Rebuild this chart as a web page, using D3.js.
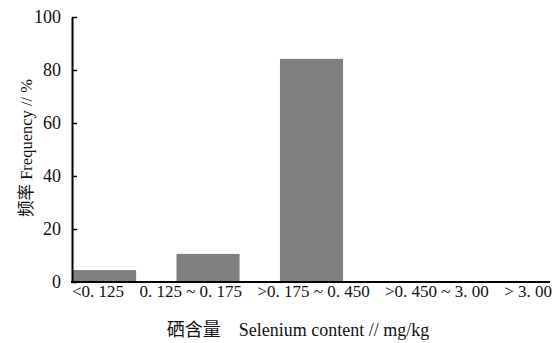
<!DOCTYPE html>
<html>
<head>
<meta charset="utf-8">
<script src="https://cdn.jsdelivr.net/npm/d3@7/dist/d3.min.js"></script>
<style>
  body { margin: 0; background: #fff; }
  text { font-family: "Liberation Serif", "Noto Sans CJK SC", serif; fill: #111; }
</style>
</head>
<body>
<svg id="chart" width="557" height="343"></svg>
<script>
// Selenium content classes and their frequency (%).
const categories = ['<0. 125', '0. 125 ~ 0. 175', '>0. 175 ~ 0. 450', '>0. 450 ~ 3. 00', '> 3. 00'];
const frequency = [4.5, 10.6, 84.2, 0, 0];
const yTicks = [0, 20, 40, 60, 80, 100];

const svg = d3.select('#chart');
const margin = {left: 72, right: 550, top: 17, bottom: 282};

// Bars hug the y axis, no outer padding.
const x = d3.scaleBand().domain(categories)
    .range([margin.left + 1, margin.right]).paddingInner(0.39).paddingOuter(0);
const y = d3.scaleLinear().domain([0, 100]).range([margin.bottom, margin.top]);

svg.selectAll('rect.bar')
    .data(categories)
    .join('rect')
    .attr('class', 'bar')
    .attr('x', d => x(d))
    .attr('width', x.bandwidth())
    .attr('y', (d, i) => y(frequency[i]))
    .attr('height', (d, i) => y(0) - y(frequency[i]))
    .attr('fill', '#808080');

// y axis with inward ticks
const yAxis = svg.append('g')
    .attr('transform', `translate(${margin.left},0)`)
    .call(d3.axisLeft(y).tickValues(yTicks).tickSizeInner(-5).tickSizeOuter(0).tickPadding(11));
yAxis.select('.domain').attr('stroke', '#000').attr('stroke-width', 2);
yAxis.selectAll('.tick line').attr('stroke', '#000').attr('stroke-width', 1.5);
yAxis.selectAll('.tick text').attr('font-size', 18).attr('font-family', '"Liberation Serif", serif');

// x axis line
svg.append('line')
    .attr('x1', margin.left - 1).attr('x2', margin.right)
    .attr('y1', y(0)).attr('y2', y(0))
    .attr('stroke', '#000').attr('stroke-width', 2);

// Category labels are justified across the axis width (like the original
// text row), rather than centred on each bar.
const labels = svg.selectAll('text.xlab')
    .data(categories)
    .join('text')
    .attr('class', 'xlab')
    .attr('y', 297)
    .attr('font-size', 17)
    .text(d => d);
const widths = labels.nodes().map(n => n.getComputedTextLength());
const rowStart = margin.left, rowEnd = 552;
const gap = (rowEnd - rowStart - d3.sum(widths)) / (categories.length - 1);
let cursor = rowStart;
labels.attr('x', (d, i) => {
  const pos = cursor;
  cursor += widths[i] + gap;
  return pos;
});

svg.append('text')
    .attr('x', 298).attr('y', 336)
    .attr('text-anchor', 'middle')
    .attr('font-size', 18)
    .text('硒含量\u3000Selenium content // mg/kg');

svg.append('text')
    .attr('transform', 'translate(32,148) rotate(-90)')
    .attr('text-anchor', 'middle')
    .attr('font-size', 16.5)
    .text('频率 Frequency // %');
</script>
</body>
</html>
